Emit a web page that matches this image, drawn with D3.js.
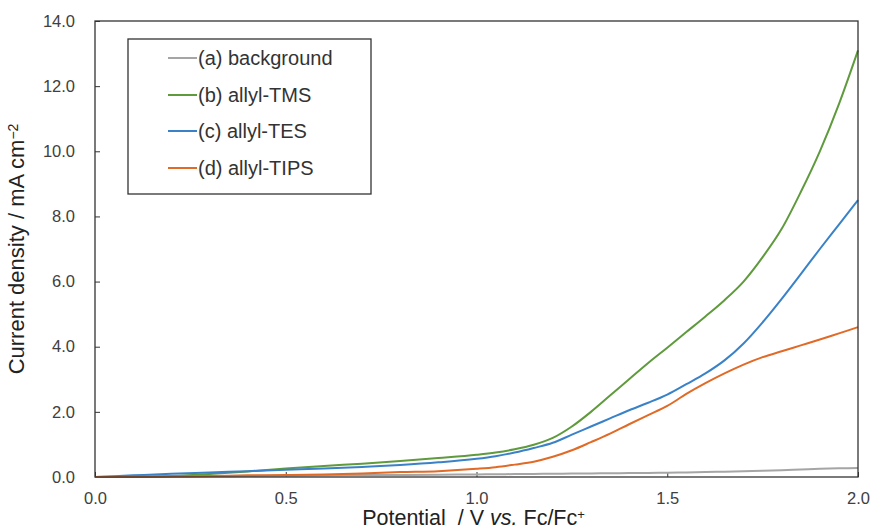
<!DOCTYPE html>
<html>
<head>
<meta charset="utf-8">
<script src="https://cdn.jsdelivr.net/npm/d3@7"></script>
<style>
  html, body { margin: 0; padding: 0; background: #fff; }
  svg { display: block; font-family: "Liberation Sans", Arial, sans-serif; }
</style>
</head>
<body>
<svg id="chart" width="870" height="530"></svg>
<script>
// Linear sweep voltammograms: potential (V vs. Fc/Fc+) and current density (mA cm^-2)
const potential = [0.0, 0.1, 0.2, 0.3, 0.4, 0.5, 0.6, 0.7, 0.8, 0.9, 1.0,
                   1.05, 1.1, 1.15, 1.2, 1.25, 1.3, 1.35, 1.4, 1.45, 1.5,
                   1.55, 1.6, 1.65, 1.7, 1.75, 1.8, 1.85, 1.9, 1.95, 2.0];
const background = [0.00, 0.00, 0.01, 0.02, 0.03, 0.04, 0.05, 0.06, 0.06, 0.07, 0.08,
                    0.085, 0.09, 0.095, 0.10, 0.105, 0.11, 0.115, 0.12, 0.125, 0.13,
                    0.14, 0.15, 0.165, 0.18, 0.195, 0.21, 0.23, 0.25, 0.265, 0.28];
const allylTMS   = [0.00, 0.01, 0.03, 0.09, 0.17, 0.26, 0.34, 0.41, 0.49, 0.58, 0.68,
                    0.75, 0.85, 0.99, 1.20, 1.55, 2.00, 2.50, 3.00, 3.50, 3.97,
                    4.45, 4.93, 5.43, 6.00, 6.75, 7.62, 8.75, 10.00, 11.45, 13.10];
const allylTES   = [0.00, 0.05, 0.10, 0.14, 0.18, 0.22, 0.26, 0.31, 0.37, 0.45, 0.56,
                    0.64, 0.75, 0.89, 1.05, 1.30, 1.55, 1.80, 2.05, 2.28, 2.53,
                    2.85, 3.18, 3.58, 4.10, 4.75, 5.47, 6.23, 7.00, 7.75, 8.50];
const allylTIPS  = [0.00, 0.01, 0.02, 0.03, 0.05, 0.06, 0.08, 0.11, 0.15, 0.18, 0.25,
                    0.30, 0.38, 0.47, 0.62, 0.82, 1.07, 1.33, 1.62, 1.90, 2.18,
                    2.55, 2.88, 3.18, 3.45, 3.68, 3.86, 4.04, 4.22, 4.41, 4.60];

const seriesNames  = ["(a) background", "(b) allyl-TMS", "(c) allyl-TES", "(d) allyl-TIPS"];
const seriesValues = [background, allylTMS, allylTES, allylTIPS];
const seriesColors = ["#a5a5a5", "#5f9a3d", "#3a82c8", "#e06a26"];

const xTicks = [0.0, 0.5, 1.0, 1.5, 2.0];
const yTicks = [0, 2, 4, 6, 8, 10, 12, 14];

const svg = d3.select("#chart");
const plot = { left: 95, right: 858, top: 21, bottom: 477 };

const x = d3.scaleLinear().domain([0, 2]).range([plot.left, plot.right]);
const y = d3.scaleLinear().domain([0, 14]).range([plot.bottom, plot.top]);
const fmt = d3.format(".1f");

// Axes with inward ticks
const xAxis = svg.append("g").attr("transform", `translate(0,${plot.bottom})`)
  .call(d3.axisBottom(x).tickValues(xTicks).tickFormat(fmt).tickSizeInner(-5).tickSizeOuter(0).tickPadding(15));
const yAxis = svg.append("g").attr("transform", `translate(${plot.left},0)`)
  .call(d3.axisLeft(y).tickValues(yTicks).tickFormat(fmt).tickSizeInner(-5).tickSizeOuter(0).tickPadding(20));

[xAxis, yAxis].forEach(g => {
  g.select(".domain").remove();
  g.selectAll(".tick line").attr("stroke", "#333").attr("stroke-width", 1);
  g.selectAll(".tick text").attr("fill", "#404040")
    .style("font-family", "'Liberation Sans', Arial, sans-serif").style("font-size", "16.5px");
});
xAxis.selectAll(".tick text").attr("dy", "0.71em");

// Curves
const line = d3.line()
  .x((d, i) => x(potential[i]))
  .y(d => y(d))
  .curve(d3.curveMonotoneX);

seriesValues.forEach((vals, k) => {
  svg.append("path")
    .datum(vals)
    .attr("d", line)
    .attr("fill", "none")
    .attr("stroke", seriesColors[k])
    .attr("stroke-width", 2)
    .attr("stroke-linejoin", "round");
});

// Plot frame
svg.append("rect")
  .attr("x", plot.left).attr("y", plot.top)
  .attr("width", plot.right - plot.left).attr("height", plot.bottom - plot.top)
  .attr("fill", "none").attr("stroke", "#333").attr("stroke-width", 1.3);

// Legend
const legend = svg.append("g");
legend.append("rect")
  .attr("x", 128).attr("y", 39).attr("width", 243).attr("height", 155)
  .attr("fill", "#fff").attr("stroke", "#333").attr("stroke-width", 1.3);
const rowY = [58, 95, 131, 168];
seriesNames.forEach((name, k) => {
  legend.append("line")
    .attr("x1", 168).attr("x2", 197).attr("y1", rowY[k]).attr("y2", rowY[k])
    .attr("stroke", seriesColors[k]).attr("stroke-width", 2);
  legend.append("text")
    .attr("x", 198).attr("y", rowY[k]).attr("dy", "0.35em")
    .attr("fill", "#333").style("font-size", "20px")
    .text(name);
});

// Axis titles
const xTitle = svg.append("text")
  .attr("x", (plot.left + plot.right) / 2 - 3).attr("y", 525)
  .attr("text-anchor", "middle").attr("fill", "#222")
  .style("font-size", "21.5px").style("white-space", "pre");
xTitle.append("tspan").text("Potential  / V ");
xTitle.append("tspan").style("font-style", "italic").text("vs.");
xTitle.append("tspan").text(" Fc/Fc");
xTitle.append("tspan").attr("dy", "-0.45em").style("font-size", "13px").text("+");

const yTitle = svg.append("text")
  .attr("transform", `translate(24,${(plot.top + plot.bottom) / 2}) rotate(-90)`)
  .attr("text-anchor", "middle").attr("fill", "#222")
  .style("font-size", "22px");
yTitle.append("tspan").text("Current density / mA cm");
yTitle.append("tspan").attr("dy", "-0.45em").style("font-size", "14px").text("\u22122");
</script>
</body>
</html>
